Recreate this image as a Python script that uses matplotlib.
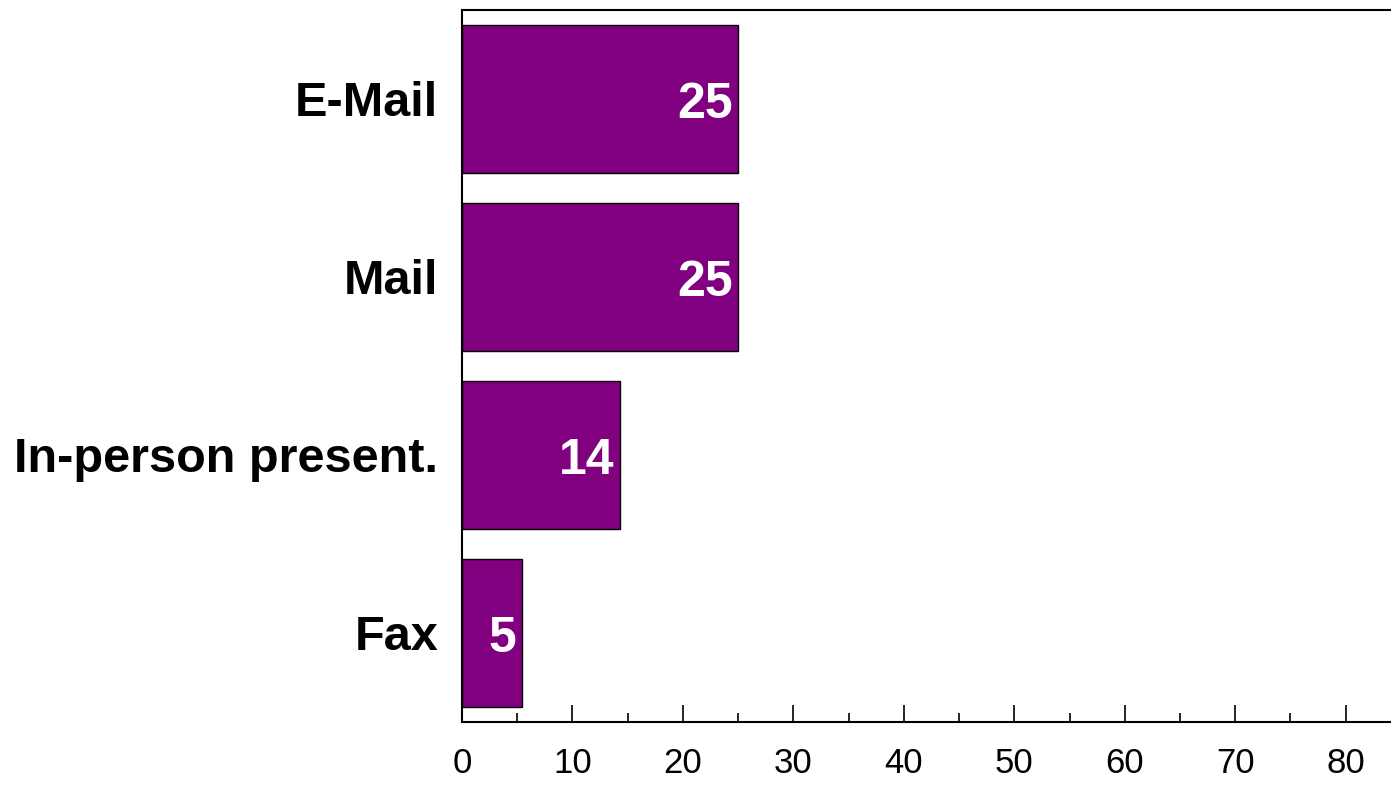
# horizontal bar chart - channels
import matplotlib.pyplot as plt
from matplotlib.ticker import MultipleLocator

# data
categories = ["Fax", "In-person present.", "Mail", "E-Mail"]
values = [5.4, 14.3, 25, 25]

plt.rcParams['font.family'] = ['Liberation Sans', 'DejaVu Sans']

fig = plt.figure(figsize=(13.91, 7.85), dpi=100)
ax = fig.add_axes([462 / 1391, 63 / 785, 1 - 462 / 1391, 712 / 785])

pos = list(range(len(categories)))
ax.barh(pos, values, height=0.83, color="#800080", edgecolor="black", linewidth=1)

# popisky hodnot v baroch (baseline posunuta, aby cisla boli v strede baru)
for p, v in zip(pos, values):
    ax.text(v - 0.5, p - 0.105, f"{v:.0f}", ha="right", va="baseline",
            color="white", fontsize=36, fontweight="bold")

ax.set_xlim(0, 84.1)
ax.set_ylim(-0.5, 3.5)
ax.set_yticks(pos)
ax.set_yticklabels(categories, fontsize=35, fontweight="bold")
ax.tick_params(axis="y", length=0, pad=17)

ax.xaxis.set_major_locator(MultipleLocator(10))
ax.xaxis.set_minor_locator(MultipleLocator(5))
ax.tick_params(axis="x", which="major", direction="in", length=12, width=1.2,
               labelsize=25, pad=18)
ax.tick_params(axis="x", which="minor", direction="in", length=6.5, width=1.2)

ax.spines["right"].set_visible(False)
for s in ["left", "top", "bottom"]:
    ax.spines[s].set_linewidth(1.5)

fig.savefig("out.png", dpi=100)
